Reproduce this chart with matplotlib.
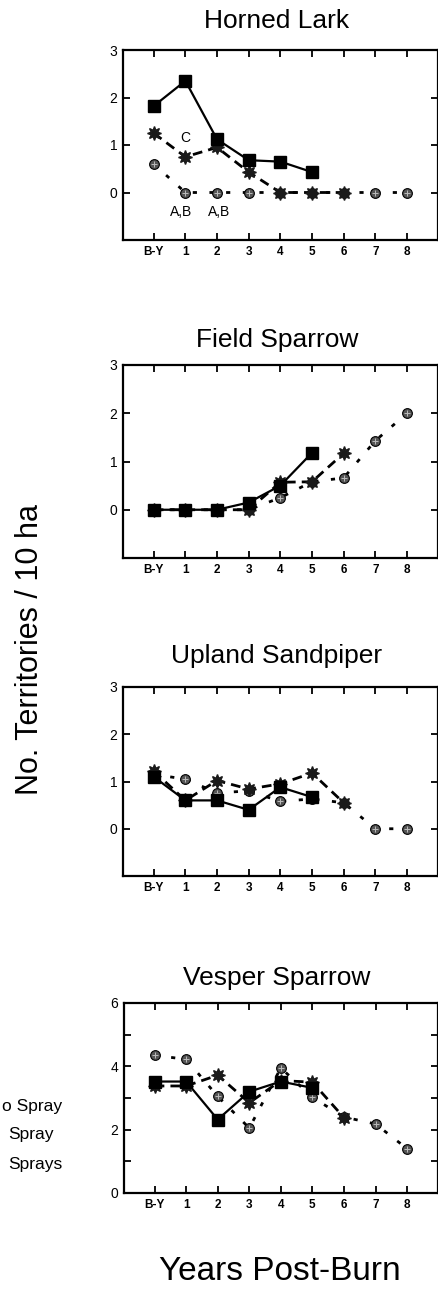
import numpy as np
import matplotlib
matplotlib.use("Agg")
import matplotlib.pyplot as plt

plt.rcParams['font.family'] = ['Liberation Sans', 'DejaVu Sans']

nan = np.nan
years = [0, 1, 2, 3, 4, 5, 6, 7, 8]
year_labels = ['B-Y', '1', '2', '3', '4', '5', '6', '7', '8']

species = ['Horned Lark', 'Field Sparrow', 'Upland Sandpiper', 'Vesper Sparrow']

# solid line, filled squares
lark_sq = [1.82, 2.35, 1.12, 0.68, 0.65, 0.43, nan, nan, nan]
# dashed line, star markers
lark_st = [1.25, 0.75, 0.95, 0.43, 0.0, 0.0, 0.0, nan, nan]
# dotted line, hatched circles
lark_ci = [0.60, 0.0, 0.0, 0.0, 0.0, 0.0, 0.0, 0.0, 0.0]

field_sq = [0.0, 0.0, 0.0, 0.15, 0.50, 1.18, nan, nan, nan]
field_st = [0.0, 0.0, 0.0, 0.0, 0.57, 0.58, 1.17, nan, nan]
field_ci = [0.0, 0.0, 0.0, 0.0, 0.25, 0.58, 0.66, 1.43, 2.00]

upland_sq = [1.10, 0.60, 0.60, 0.40, 0.88, 0.67, nan, nan, nan]
upland_st = [1.22, 0.60, 1.02, 0.84, 0.95, 1.18, 0.55, nan, nan]
upland_ci = [1.15, 1.05, 0.76, 0.80, 0.58, 0.63, 0.55, 0.0, 0.0]

vesper_sq = [3.52, 3.52, 2.32, 3.20, 3.52, 3.32, nan, nan, nan]
vesper_st = [3.38, 3.38, 3.72, 2.85, 3.55, 3.50, 2.38, nan, nan]
vesper_ci = [4.35, 4.22, 3.05, 2.05, 3.95, 3.02, 2.40, 2.18, 1.40]

series = [(lark_sq, lark_st, lark_ci), (field_sq, field_st, field_ci),
          (upland_sq, upland_st, upland_ci), (vesper_sq, vesper_st, vesper_ci)]

# legend text as visible in the (cropped) source
legend_labels = ['o Spray', 'Spray', 'Sprays']

W, H = 439, 1301
fig = plt.figure(figsize=(W / 100, H / 100), dpi=100)

# axes boxes in pixels: (left, top, right, bottom)
boxes = [(123, 50, 438, 240), (123, 365, 438, 558), (123, 687, 438, 876), (124, 1003, 438, 1193)]
title_base = [28, 347, 663, 985]

for i, (sp, (sq, st, ci)) in enumerate(zip(species, series)):
    l, t, r, b = boxes[i]
    ax = fig.add_axes([l / W, 1 - b / H, (r - l) / W, (b - t) / H])
    ax.plot(years, ci, linestyle=(0, (1.5, 4.5)), color='black', lw=2.0,
            marker='o', ms=7, mfc='#555555', mec='black', mew=0.8, zorder=2)
    ax.plot(years, ci, linestyle='none', marker='+', ms=5, mec='#bbbbbb', mew=0.7, zorder=2.1)
    ax.plot(years, st, linestyle=(0, (3.5, 2.2)), color='black', lw=2.0,
            marker=(8, 1, 0), ms=10, mfc='#1a1a1a', mec='#1a1a1a', zorder=3)
    ax.plot(years, sq, linestyle='-', color='black', lw=1.6,
            marker='s', ms=8.5, mfc='black', mec='black', zorder=4)
    ax.set_xlim(-0.97, 8.98)
    ax.set_xticks(years)
    ax.set_xticklabels(year_labels, fontsize=8.5, fontweight='bold')
    if i < 3:
        ax.set_ylim(-1, 3)
        ax.set_yticks([0, 1, 2, 3])
        ax.set_yticklabels(['0', '1', '2', '3'], fontsize=10)
    else:
        ax.set_ylim(0, 6)
        ax.set_yticks([0, 1, 2, 3, 4, 5, 6])
        ax.set_yticklabels(['0', '', '2', '', '4', '', '6'], fontsize=10)
    ax.tick_params(direction='in', top=True, right=True, length=5, width=1.3, pad=4)
    for s in ax.spines.values():
        s.set_linewidth(1.6)
    fig.text(277 / W, 1 - title_base[i] / H, sp, ha='center', va='baseline', fontsize=19)
    if i == 0:
        ax.text(1.0, 1.15, 'C', ha='center', va='center', fontsize=10)
        ax.text(0.88, -0.40, 'A,B', ha='center', va='center', fontsize=10)
        ax.text(2.08, -0.40, 'A,B', ha='center', va='center', fontsize=10)

fig.text(30 / W, 1 - 650 / H, 'No. Territories / 10 ha', rotation=90,
         ha='center', va='center', fontsize=22)
fig.text(280 / W, 1 - 1272 / H, 'Years Post-Burn', ha='center', va='center', fontsize=24)

leg_x = [2, 8, 8]
leg_y = [1106, 1135, 1165]
for lab, lx, ly in zip(legend_labels, leg_x, leg_y):
    fig.text(lx / W, 1 - ly / H, lab, ha='left', va='center', fontsize=12.5)

fig.savefig('out.png', dpi=100)
